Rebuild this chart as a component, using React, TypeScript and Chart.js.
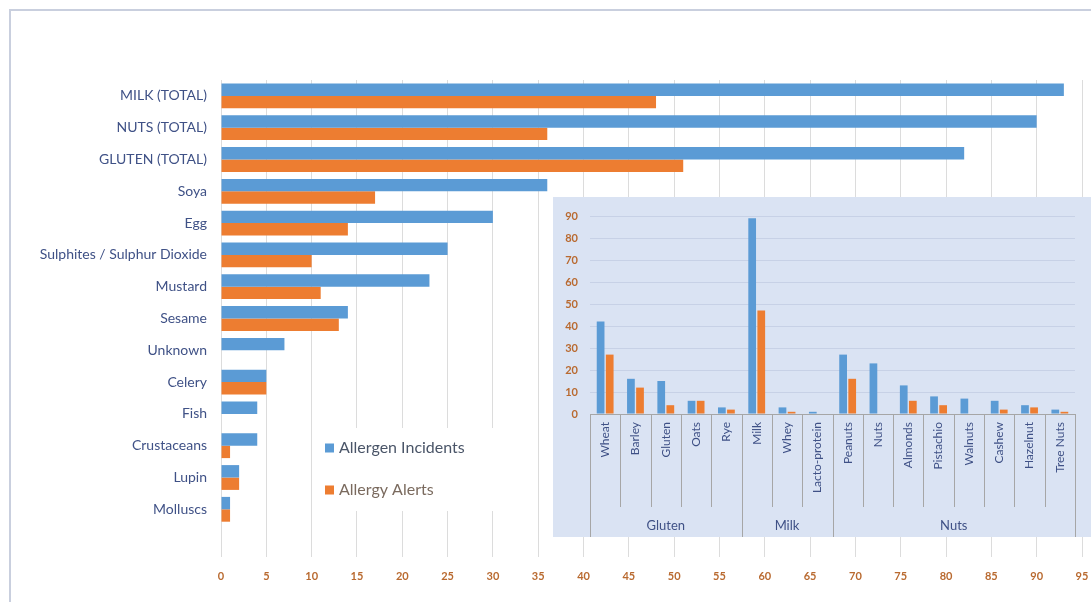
import React, { useEffect, useRef } from 'react';
import { Chart, registerables } from 'chart.js';

Chart.register(...registerables);

// Main horizontal chart: totals per allergen (last row is an empty spacer)
const allergenNames = [
  'MILK (TOTAL)', 'NUTS (TOTAL)', 'GLUTEN (TOTAL)', 'Soya', 'Egg',
  'Sulphites / Sulphur Dioxide', 'Mustard', 'Sesame', 'Unknown', 'Celery',
  'Fish', 'Crustaceans', 'Lupin', 'Molluscs', '',
];
const allergenIncidents = [93, 90, 82, 36, 30, 25, 23, 14, 7, 5, 4, 4, 2, 1, null];
const allergyAlerts = [48, 36, 51, 17, 14, 10, 11, 13, 0, 5, 0, 1, 2, 1, null];

// Breakdown chart: individual items, grouped
const detailItems = [
  'Wheat', 'Barley', 'Gluten', 'Oats', 'Rye',
  'Milk', 'Whey', 'Lacto-protein',
  'Peanuts', 'Nuts', 'Almonds', 'Pistachio', 'Walnuts', 'Cashew', 'Hazelnut', 'Tree Nuts',
];
const detailIncidents = [42, 16, 15, 6, 3, 89, 3, 1, 27, 23, 13, 8, 7, 6, 4, 2];
const detailAlerts = [27, 12, 4, 6, 2, 47, 1, 0, 16, 0, 6, 4, 0, 2, 3, 1];
const groupNames = ['Gluten', 'Milk', 'Nuts'];
const groupSizes = [5, 3, 8];

const seriesNames = ['Allergen Incidents', 'Allergy Alerts'];

const BLUE = '#5B9BD5';
const ORANGE = '#ED7D31';
const LABEL_BLUE = '#3F5186';
const TICK_BROWN = '#B96A30';
const FONT = 'Lato, "Open Sans", sans-serif';

const frameAndLegend = {
  id: 'frameAndLegend',
  afterDraw(chart: any) {
    const ctx = chart.ctx;
    ctx.save();
    // outer frame (top and left edges)
    ctx.strokeStyle = '#C9CFDE';
    ctx.lineWidth = 2;
    ctx.beginPath();
    ctx.moveTo(10, 602);
    ctx.lineTo(10, 10);
    ctx.lineTo(1091, 10);
    ctx.stroke();

    // legend box
    ctx.fillStyle = '#FFFFFF';
    ctx.fillRect(318, 428, 196, 83);
    const rows = [448, 490];
    chart.data.datasets.forEach((ds: any, i: number) => {
      const y = rows[i];
      ctx.fillStyle = ds.backgroundColor;
      ctx.fillRect(325, y - 4.5, 9, 9);
      ctx.fillStyle = i === 0 ? '#4A5568' : '#7A6A5E';
      ctx.font = `16px ${FONT}`;
      ctx.textBaseline = 'middle';
      ctx.textAlign = 'left';
      ctx.fillText(ds.label, 339, y);
    });
    ctx.restore();
  },
};

const groupAxis = {
  id: 'groupAxis',
  afterDraw(chart: any) {
    const ctx = chart.ctx;
    const { left, right, bottom } = chart.chartArea;
    const n = detailItems.length;
    const w = (right - left) / n;
    const h = chart.height;
    const bounds = new Set<number>([0]);
    let acc = 0;
    groupSizes.forEach((s) => { acc += s; bounds.add(acc); });
    ctx.save();
    ctx.strokeStyle = '#A6A6A6';
    ctx.lineWidth = 1;
    for (let i = 0; i <= n; i++) {
      const x = Math.round(left + i * w) + 0.5;
      ctx.beginPath();
      ctx.moveTo(x, bottom);
      ctx.lineTo(x, bounds.has(i) ? h : bottom + 93);
      ctx.stroke();
    }
    ctx.fillStyle = LABEL_BLUE;
    ctx.font = `13px ${FONT}`;
    ctx.textAlign = 'center';
    ctx.textBaseline = 'middle';
    let start = 0;
    groupNames.forEach((g, gi) => {
      const end = start + groupSizes[gi];
      ctx.fillText(g, left + ((start + end) / 2) * w, h - 11);
      start = end;
    });
    ctx.restore();
  },
};

export default function App() {
  const mainRef = useRef<HTMLCanvasElement>(null);
  const detailRef = useRef<HTMLCanvasElement>(null);

  useEffect(() => {
    const main = new Chart(mainRef.current!, {
      type: 'bar',
      data: {
        labels: allergenNames,
        datasets: [
          { label: seriesNames[0], data: allergenIncidents, backgroundColor: BLUE },
          { label: seriesNames[1], data: allergyAlerts, backgroundColor: ORANGE },
        ],
      },
      options: {
        indexAxis: 'y',
        animation: false,
        responsive: false,
        maintainAspectRatio: false,
        layout: { padding: { top: 80, right: 9, left: 0, bottom: 0 } },
        datasets: { bar: { categoryPercentage: 0.78, barPercentage: 1 } },
        plugins: { legend: { display: false }, tooltip: { enabled: false } },
        scales: {
          x: {
            type: 'linear',
            min: 0,
            max: 95,
            ticks: {
              stepSize: 5,
              color: TICK_BROWN,
              font: { family: FONT, size: 11, weight: 'bold' },
              padding: 13,
            },
            grid: { color: '#DCDCDC', drawTicks: false },
            border: { display: false },
            afterFit: (s: any) => {
              s.height = 45;
              s.paddingLeft = 0;
              s.paddingRight = 0;
            },
          },
          y: {
            type: 'category',
            grid: { display: false, drawTicks: false },
            border: { display: false },
            ticks: {
              autoSkip: false,
              color: LABEL_BLUE,
              font: { family: FONT, size: 14 },
              padding: 14,
            },
            afterFit: (s: any) => { s.width = 221; },
          },
        },
      } as any,
      plugins: [frameAndLegend],
    });

    const detail = new Chart(detailRef.current!, {
      type: 'bar',
      data: {
        labels: detailItems,
        datasets: [
          { label: seriesNames[0], data: detailIncidents, backgroundColor: BLUE },
          { label: seriesNames[1], data: detailAlerts, backgroundColor: ORANGE },
        ],
      },
      options: {
        animation: false,
        responsive: false,
        maintainAspectRatio: false,
        layout: { padding: { top: 19, right: 16, left: 0, bottom: 0 } },
        datasets: { bar: { categoryPercentage: 0.6, barPercentage: 0.85 } },
        plugins: { legend: { display: false }, tooltip: { enabled: false } },
        scales: {
          x: {
            type: 'category',
            grid: { display: false, drawTicks: false },
            border: { display: true, color: '#A6A6A6' },
            ticks: {
              autoSkip: false,
              minRotation: 90,
              maxRotation: 90,
              padding: 8,
              color: LABEL_BLUE,
              font: { family: FONT, size: 12 },
            },
            afterFit: (s: any) => {
              s.height = 123;
              s.paddingLeft = 0;
              s.paddingRight = 0;
            },
          },
          y: {
            min: 0,
            max: 90,
            ticks: {
              stepSize: 10,
              color: TICK_BROWN,
              font: { family: FONT, size: 11, weight: 'bold' },
              padding: 12,
            },
            grid: { color: '#C7D1E6', drawTicks: false },
            border: { display: false },
            afterFit: (s: any) => { s.width = 37; },
          },
        },
      } as any,
      plugins: [groupAxis],
    });

    return () => {
      main.destroy();
      detail.destroy();
    };
  }, []);

  return (
    <div style={{ position: 'absolute', left: 0, top: 0, width: 1091, height: 602, overflow: 'hidden', background: '#FFFFFF' }}>
      <canvas ref={mainRef} width={1091} height={602} style={{ position: 'absolute', left: 0, top: 0 }} />
      <canvas
        ref={detailRef}
        width={538}
        height={340}
        style={{ position: 'absolute', left: 553, top: 197, background: '#DAE3F3' }}
      />
    </div>
  );
}
